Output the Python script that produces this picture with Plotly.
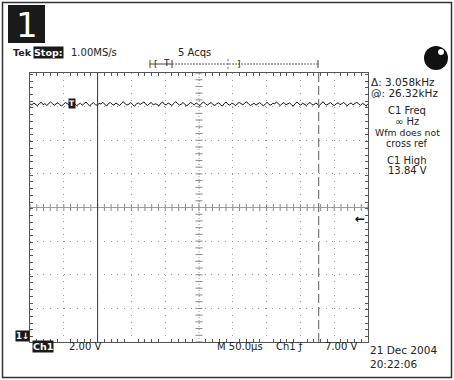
import numpy as np
import plotly.graph_objects as go

# ---- data ----
wave_v = [13.84, 13.78, 13.90, 13.81, 13.73, 13.87, 13.94, 13.80, 13.86, 13.75, 13.83, 13.96, 13.86, 13.76,
          13.85, 13.91, 13.79, 13.71, 13.83, 13.92, 13.86, 13.78, 13.89, 13.97, 13.84, 13.74, 13.82, 13.88,
          13.77, 13.86, 13.95, 13.82, 13.72, 13.85, 13.91, 13.80, 13.76, 13.88, 13.83, 13.94, 13.79, 13.71,
          13.86, 13.93, 13.82, 13.77, 13.90, 13.81, 13.74, 13.88, 13.98, 13.84, 13.77, 13.83, 13.92, 13.79,
          13.70, 13.85, 13.90, 13.81, 13.87, 13.96, 13.82, 13.75, 13.86, 13.92, 13.78, 13.85, 13.81, 13.72,
          13.88, 13.95, 13.82, 13.78, 13.90, 13.84, 13.75, 13.86, 13.98, 13.87, 13.77, 13.83, 13.93, 13.80,
          13.72, 13.84, 13.93, 13.86, 13.78, 13.90, 13.82, 13.74, 13.88, 13.96, 13.84, 13.77, 13.86, 13.92,
          13.80, 13.75, 13.85, 13.91, 13.79, 13.71, 13.86, 13.95, 13.82, 13.77, 13.88, 13.84, 13.74, 13.83,
          13.93, 13.86, 13.78, 13.90, 13.97, 13.84, 13.75, 13.81, 13.88, 13.77, 13.86, 13.92, 13.82, 13.72,
          13.84, 13.94, 13.80, 13.77, 13.88, 13.84, 13.96, 13.82, 13.74, 13.86, 13.92, 13.79, 13.84, 13.90,
          13.80, 13.71, 13.86, 13.95, 13.84, 13.77, 13.88, 13.82, 13.75, 13.86, 13.93, 13.80, 13.78, 13.90,
          13.84, 13.74, 13.88, 13.97, 13.82, 13.77, 13.86, 13.92, 13.80, 13.75, 13.85, 13.91, 13.79, 13.86,
          13.93, 13.81, 13.73, 13.85, 13.90, 13.78, 13.84, 13.95, 13.83, 13.76, 13.87, 13.82, 13.72, 13.85]
t_range_us = [0, 500]          # 10 div x 50 us
v_range = [-0.32, 15.68]       # 8 div x 2 V, ground 3.84 div below center
cursor_us = [100, 427]
trigger_level_v = 7.00
v_div = 2.0
t_div = 50.0

times = np.linspace(t_range_us[0], t_range_us[1], len(wave_v))

W, H = 454, 380
def px(x): return x / W
def py(y): return 1 - y / H

FONT = "DejaVu Sans"
fig = go.Figure()

# center-line tick marks
v_center = (v_range[0] + v_range[1]) / 2
t_center = (t_range_us[0] + t_range_us[1]) / 2
tick_t = np.arange(t_range_us[0], t_range_us[1] + 0.1, t_div / 5)
tick_v = np.arange(v_range[0], v_range[1] + 0.01, v_div / 5)
fig.add_trace(go.Scatter(x=tick_t, y=[v_center] * len(tick_t), mode="markers",
                         marker=dict(symbol="line-ns", size=5, line=dict(width=1, color="#888")),
                         hoverinfo="skip", showlegend=False))
fig.add_trace(go.Scatter(x=[t_center] * len(tick_v), y=tick_v, mode="markers",
                         marker=dict(symbol="line-ew", size=5, line=dict(width=1, color="#888")),
                         hoverinfo="skip", showlegend=False))

# waveform
fig.add_trace(go.Scatter(x=times, y=wave_v, mode="lines", line=dict(color="#111", width=1),
                         showlegend=False, hoverinfo="skip"))

shapes = []
# center lines
shapes.append(dict(type="line", xref="x", yref="y", x0=t_range_us[0], x1=t_range_us[1], y0=v_center, y1=v_center,
                   line=dict(color="#999", width=1)))
shapes.append(dict(type="line", xref="x", yref="y", x0=t_center, x1=t_center, y0=v_range[0], y1=v_range[1],
                   line=dict(color="#999", width=1, dash="1px,2px")))
# cursors
shapes.append(dict(type="line", xref="x", yref="y", x0=cursor_us[0], x1=cursor_us[0], y0=v_range[0], y1=v_range[1],
                   line=dict(color="#333", width=1)))
shapes.append(dict(type="line", xref="x", yref="y", x0=cursor_us[1], x1=cursor_us[1], y0=v_range[0], y1=v_range[1],
                   line=dict(color="#777", width=1.2, dash="9px,4px")))
# outer frame
shapes.append(dict(type="rect", xref="paper", yref="paper", x0=px(2.5), x1=px(451.5), y0=py(2.5), y1=py(377.5),
                   line=dict(color="#333", width=1.5)))
# big "1" box
shapes.append(dict(type="rect", xref="paper", yref="paper", x0=px(8), x1=px(45), y0=py(5), y1=py(43),
                   fillcolor="#1a1a1a", line=dict(width=0)))
# record bar
shapes.append(dict(type="line", xref="paper", yref="paper", x0=px(150), x1=px(172), y0=py(64), y1=py(64),
                   line=dict(color="#444", width=1)))
shapes.append(dict(type="line", xref="paper", yref="paper", x0=px(172), x1=px(318), y0=py(64), y1=py(64),
                   line=dict(color="#666", width=1, dash="2px,1px")))
for xx in [150, 172, 318]:
    shapes.append(dict(type="line", xref="paper", yref="paper", x0=px(xx), x1=px(xx), y0=py(60), y1=py(68),
                       line=dict(color="#444", width=1)))
shapes.append(dict(type="line", xref="paper", yref="paper", x0=px(228), x1=px(228), y0=py(59), y1=py(69),
                   line=dict(color="#666", width=1, dash="2px,2px")))
# black ball
shapes.append(dict(type="circle", xref="paper", yref="paper", x0=px(424), x1=px(448), y0=py(46), y1=py(70),
                   fillcolor="#111", line=dict(width=0)))
shapes.append(dict(type="circle", xref="paper", yref="paper", x0=px(438), x1=px(444), y0=py(49), y1=py(55),
                   fillcolor="white", line=dict(width=0)))

ann = []
def text(x, y, s, size=10.5, xanchor="left", color="#222", bg=None, bold=False, h=None):
    d = dict(x=px(x), y=py(y), xref="paper", yref="paper", text=("<b>%s</b>" % s) if bold else s,
             showarrow=False, xanchor=xanchor, yanchor="middle",
             font=dict(family=FONT, size=size, color=color),
             bgcolor=bg, borderpad=0)
    if h is not None:
        d["height"] = h
    ann.append(d)

text(26.5, 25, "1", size=34, xanchor="center", color="white")
text(12, 53, "Tek", bold=True, size=9.5)
text(33, 53, "Stop:", color="white", bg="#1a1a1a", bold=True, size=9.5)
text(70, 53, "1.00MS/s", size=10)
text(177, 53, "5 Acqs", size=10)
text(156, 64, "[", size=9, xanchor="center")
text(166, 63, "T", size=9, xanchor="center")
text(239, 64, "]", size=9, xanchor="center")

text(370, 81, "Δ: 3.058kHz", size=10.5, h=11)
text(370, 92.5, "@: 26.32kHz", size=10.5, h=11)
text(407, 110.5, "C1 Freq", xanchor="center", size=10, h=11)
text(407, 121.5, "∞ Hz", xanchor="center", size=10, h=11)
text(407, 132.5, "Wfm does not", xanchor="center", size=9.3, h=11)
text(407, 143.5, "cross ref", xanchor="center", size=9.6, h=11)
text(407, 160, "C1 High", xanchor="center", size=10, h=11)
text(407, 171, "13.84 V", xanchor="center", size=10, h=11)

text(32, 346, "Ch1", color="white", bg="#1a1a1a", bold=True, size=9.5)
text(68, 346, "2.00 V", size=10)
text(216, 346, "M 50.0µs", size=10)
text(275, 346, "Ch1 ƒ", size=10)
text(324, 346, "7.00 V", size=10)
text(369, 350, "21 Dec 2004", size=10.5)
text(369, 364, "20:22:06", size=10.5)

text(15, 336, "1↓", color="white", bg="#1a1a1a", bold=True, size=8.5)
text(68, 103, "T", color="white", bg="#1a1a1a", bold=True, size=7.5)
ann.append(dict(x=t_range_us[1], y=trigger_level_v, xref="x", yref="y", text="<b>←</b>", showarrow=False,
                xanchor="right", yanchor="middle", xshift=-1, font=dict(family=FONT, size=12, color="#111")))

axis_common = dict(showline=True, mirror="ticks", linecolor="#555", linewidth=1, showticklabels=False,
                   ticks="", zeroline=False, griddash="1px,5.72px", gridcolor="#9a9a9a", gridwidth=1,
                   showgrid=True, fixedrange=True)
fig.update_layout(
    width=W, height=H, margin=dict(l=0, r=0, t=0, b=0),
    paper_bgcolor="white", plot_bgcolor="white",
    xaxis=dict(domain=[px(30), px(368)], range=t_range_us, tick0=0, dtick=t_div,
               minor=dict(dtick=t_div / 5, ticks="inside", ticklen=3, tickcolor="#555", showgrid=False),
               **axis_common),
    yaxis=dict(domain=[py(342), py(73)], range=v_range, tick0=v_range[0], dtick=v_div,
               minor=dict(dtick=v_div / 5, ticks="inside", ticklen=3, tickcolor="#555", showgrid=False),
               **axis_common),
    shapes=shapes, annotations=ann, showlegend=False,
)
fig.write_html("out.html", config={"displayModeBar": False},
               post_script="document.body.style.margin='0';document.body.style.overflow='hidden';")
